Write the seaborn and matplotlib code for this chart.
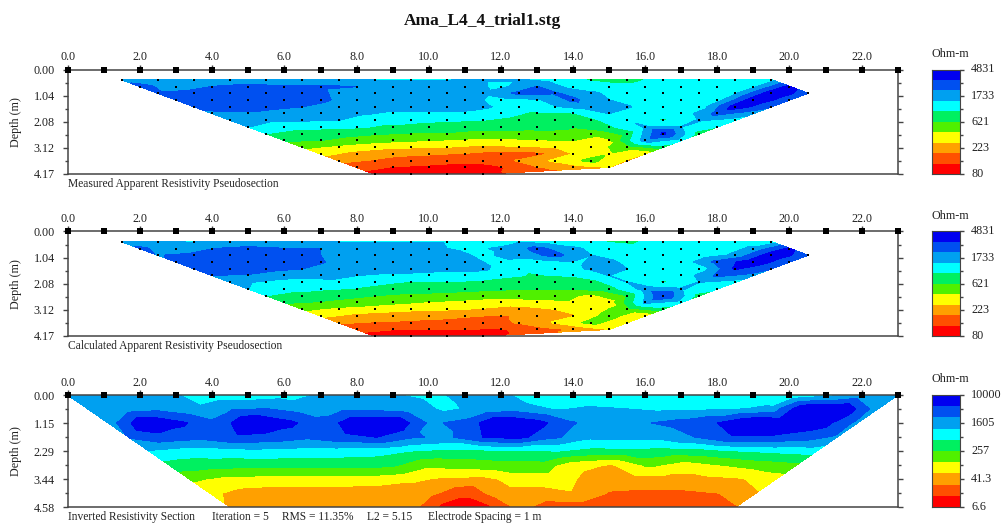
import numpy as np
import seaborn as sns
import matplotlib
matplotlib.use("Agg")
import matplotlib.pyplot as plt
from matplotlib.colors import ListedColormap
from matplotlib.ticker import FixedLocator
from matplotlib.tri import Triangulation

TITLE = "Ama_L4_4_trial1.stg"
COLORS = ["#ff0000", "#ff5000", "#ffa000", "#ffff00", "#50f000",
          "#00f060", "#00ffff", "#00a0f0", "#0050f0", "#0000f0"]

pseudo_depth_labels = ["0.00", "1.04", "2.08", "3.12", "4.17"]
pseudo_bar_labels = ["4831", "1733", "621", "223", "80"]
section_depth_labels = ["0.00", "1.15", "2.29", "3.44", "4.58"]
section_bar_labels = ["10000", "1605", "257", "41.3", "6.6"]

# values are read as a position on the colour bar, 0 = bottom, 10 = top
measured = [
    [7.7, 7.2, 6.95, 7.0, 6.95, 6.95, 6.95, 6.95, 6.95, 6.95, 7.1, 7.1, 6.5, 5.9, 5.7, 6.3, 6.4, 6.4, 6.5],
    [8.3, 7.5, 8.0, 8.4, 8.1, 8.1, 8.0, 7.5, 7.5, 7.5, 6.7, 8.0, 6.5, 6.2, 6.3, 6.3, 6.3, 6.7, 9.3],
    [8.1, 8.3, 8.5, 8.5, 8.5, 7.8, 7.5, 7.5, 7.5, 7.2, 8.2, 8.1, 7.2, 6.4, 6.3, 6.3, 6.8, 9.6, 8.6],
    [8.2, 8.5, 8.6, 8.5, 8.2, 7.5, 7.5, 7.5, 7.5, 6.5, 6.8, 8.2, 7.0, 6.3, 6.3, 6.5, 9.6, 8.5],
    [8.1, 8.2, 8.3, 8.0, 7.5, 7.5, 7.5, 7.5, 7.2, 6.4, 6.9, 7.5, 7.1, 6.3, 6.3, 9.5, 8.2],
    [7.9, 7.9, 7.5, 7.4, 7.2, 6.8, 6.8, 6.8, 6.3, 5.8, 5.9, 7.0, 6.3, 6.3, 8.3, 7.3],
    [7.3, 7.2, 7.1, 7.0, 6.3, 6.3, 6.1, 6.0, 5.7, 5.6, 5.7, 6.9, 5.9, 7.1, 6.5],
    [7.0, 6.3, 6.2, 6.1, 5.8, 5.5, 5.4, 5.3, 5.2, 5.1, 5.8, 7.1, 7.0, 6.0],
    [6.0, 5.6, 5.4, 5.1, 4.9, 4.9, 4.6, 4.7, 4.8, 4.1, 5.3, 9.2, 5.5],
    [5.1, 5.0, 4.5, 4.2, 4.0, 3.8, 3.7, 3.9, 4.0, 3.8, 7.5, 6.5],
    [4.2, 3.7, 3.3, 3.1, 3.0, 2.7, 2.9, 3.0, 3.6, 4.4, 5.5],
    [3.3, 2.6, 2.2, 2.1, 1.9, 1.5, 1.6, 3.0, 3.9, 3.0],
    [2.2, 1.9, 1.6, 1.3, 1.2, 2.1, 3.2, 4.3, 2.9],
    [1.5, 0.9, 0.75, 0.6, 0.9, 1.9, 2.5, 3.0],
    [0.5, 0.3, 0.3, 0.5],
]

calculated = [
    [7.5, 7.05, 6.95, 6.95, 6.95, 6.95, 6.95, 6.95, 6.95, 6.95, 6.5, 6.9, 6.3, 6.1, 5.8, 6.4, 6.4, 6.4, 6.4],
    [8.2, 7.4, 7.95, 8.3, 8.0, 8.0, 7.3, 7.3, 7.2, 6.8, 7.1, 8.3, 7.2, 6.4, 6.3, 6.3, 6.4, 7.2, 9.2],
    [7.95, 8.2, 8.5, 8.5, 8.4, 7.6, 7.4, 7.4, 7.4, 6.8, 7.4, 8.3, 7.0, 6.4, 6.3, 6.3, 7.2, 9.6, 8.5],
    [8.1, 8.4, 8.6, 8.5, 8.1, 7.4, 7.4, 7.4, 7.3, 6.7, 6.4, 6.9, 7.2, 6.3, 6.3, 8.3, 9.6, 8.3],
    [8.1, 8.4, 8.3, 8.0, 7.4, 7.4, 7.4, 7.2, 7.2, 6.1, 6.6, 7.1, 7.0, 6.3, 6.3, 9.1, 8.1],
    [8.0, 7.9, 7.4, 7.3, 7.0, 6.8, 6.7, 6.6, 6.2, 5.9, 6.1, 7.0, 6.4, 6.3, 8.2, 7.6],
    [7.3, 6.8, 6.5, 6.8, 6.2, 5.9, 5.9, 5.8, 5.5, 5.2, 5.5, 7.0, 5.9, 7.0, 6.5],
    [7.0, 6.2, 6.1, 5.9, 5.6, 5.5, 5.3, 5.1, 5.0, 5.0, 5.5, 7.4, 7.1, 6.2],
    [6.0, 5.7, 5.3, 5.0, 4.7, 4.6, 4.4, 4.4, 4.5, 3.7, 5.0, 9.0, 5.5],
    [5.1, 4.9, 4.6, 4.2, 3.9, 3.7, 3.4, 3.6, 3.8, 3.4, 7.2, 6.5],
    [4.2, 3.7, 3.4, 3.2, 3.1, 2.9, 2.6, 3.0, 3.4, 4.6, 5.5],
    [3.2, 2.7, 2.5, 2.3, 2.1, 1.9, 2.3, 2.9, 4.4, 3.0],
    [2.1, 1.9, 1.8, 1.7, 1.5, 2.1, 3.1, 4.3, 3.2],
    [1.5, 1.05, 1.0, 1.0, 0.9, 1.5, 2.1, 3.0],
    [0.3, 0.2, 0.3, 0.5],
]

inverted = [
    [7.4, 7.4, 7.3, 7.05, 6.4, 6.4, 6.6, 7.1, 7.1, 7.05, 6.8, 7.2, 7.3, 6.2, 6.5, 6.4, 6.3, 6.2, 6.0, 6.3, 6.0, 6.6, 7.3, 7.4],
    [7.4, 7.4, 7.7, 7.2, 7.9, 8.0, 7.5, 7.7, 7.7, 7.4, 6.8, 7.3, 7.5, 6.9, 7.1, 7.0, 6.8, 6.8, 6.9, 7.2, 10.0, 10.0, 7.4],
    [7.4, 9.9, 9.2, 8.2, 10.0, 9.3, 8.3, 9.8, 9.9, 7.8, 8.3, 10.0, 9.4, 8.1, 7.3, 7.9, 8.3, 8.9, 10.0, 9.9, 9.5, 7.7],
    [8.1, 8.6, 8.3, 8.8, 8.6, 8.2, 8.7, 9.0, 8.1, 7.8, 9.0, 9.3, 8.2, 7.2, 7.3, 7.3, 8.0, 8.9, 8.9, 8.5, 7.8],
    [6.9, 6.5, 6.6, 6.7, 6.6, 6.5, 6.4, 6.0, 5.7, 5.7, 5.8, 6.0, 5.6, 5.7, 5.5, 5.6, 6.0, 6.2, 6.4],
    [5.6, 5.4, 5.3, 5.3, 5.3, 5.3, 5.2, 4.2, 4.4, 4.6, 4.6, 3.3, 2.9, 4.2, 3.5, 4.0, 4.4, 4.7],
    [4.2, 3.7, 3.6, 3.6, 3.6, 3.5, 3.2, 2.8, 2.7, 3.4, 3.5, 2.6, 2.5, 2.6, 2.7, 2.9, 3.5],
    [3.2, 2.6, 2.4, 2.4, 2.4, 2.3, 2.3, 1.2, 2.6, 2.6, 2.9, 1.9, 1.8, 1.8, 2.0, 2.9],
    [2.9, 2.5, 2.5, 2.5, 2.5, 2.4, 0.5, 0.5, 2.3, 1.4, 1.3, 1.3, 1.3, 1.3, 1.9],
]

sns.set_theme(style="white")
plt.rcParams["font.family"] = ["Liberation Serif", "DejaVu Serif"]
INK = "#222222"
LINE = "#444444"
W, H = 1001, 527


def add_px_axes(fig, left, top, right, bottom):
    return fig.add_axes([left / W, 1 - bottom / H, (right - left) / W, (bottom - top) / H])


def pseudo_points(rows):
    xs, zs, vs = [], [], []
    for k, row in enumerate(rows):
        for i, v in enumerate(row):
            xs.append(1.5 + 0.5 * k + i)
            zs.append(0.41 + 0.2686 * k)
            vs.append(v)
    return np.array(xs), np.array(zs), np.array(vs)


def section_points(rows, max_depth):
    xs, zs, vs = [], [], []
    for k, row in enumerate(rows):
        left = 0.5625 * k
        xs.extend(np.linspace(left, 23 - left, len(row)))
        zs.extend([max_depth * k / (len(rows) - 1)] * len(row))
        vs.extend(row)
    return np.array(xs), np.array(zs), np.array(vs)


def draw_panel(fig, box, xs, zs, vs, depth_labels, max_depth, z_scale, show_dots):
    ax = add_px_axes(fig, *box)
    triangles = Triangulation(xs, zs * z_scale).triangles
    tri = Triangulation(xs, zs, triangles)
    levels = [-1, 1, 2, 3, 4, 5, 6, 7, 8, 9, 11]
    cs = ax.tricontourf(tri, vs, levels=levels, colors=COLORS)
    cs.set_edgecolor("face")
    cs.set_linewidth(0.3)
    if show_dots:
        sns.scatterplot(x=xs, y=zs, ax=ax, color="black", marker="s", s=1.6, linewidth=0,
                        legend=False, zorder=3, clip_on=False)
    # electrodes on the surface line
    electrodes = np.arange(0, 24)
    sns.scatterplot(x=electrodes, y=np.zeros(24), ax=ax, color="black", marker="s", s=16,
                    linewidth=0, legend=False, zorder=5, clip_on=False)
    ax.set_xlim(0, 23)
    ax.set_ylim(max_depth, 0)

    ax.xaxis.tick_top()
    ax.set_xticks(np.arange(0, 23, 2))
    ax.set_xticklabels([f"{v:.1f}" for v in np.arange(0, 23, 2)], fontsize=8.7, color=INK)
    ax.tick_params(axis="x", length=3.6, width=1, color=LINE, pad=1, bottom=False, top=True)

    major = np.linspace(0, max_depth, 5)
    ax.set_yticks(major)
    ax.set_yticklabels(depth_labels, fontsize=8.7, color=INK)
    ax.yaxis.set_minor_locator(FixedLocator((major[:-1] + major[1:]) / 2))
    ax.tick_params(axis="y", which="major", length=3.6, width=1, color=LINE, pad=6,
                   left=True, right=True)
    ax.tick_params(axis="y", which="minor", length=2, width=1, color=LINE,
                   left=True, right=True)
    ax.set_ylabel("Depth (m)", fontsize=8.7, color=INK)
    ax.yaxis.set_label_coords(-46 / (box[2] - box[0]), 0.5)
    ax.set_xlabel("")
    for side in ax.spines.values():
        side.set_color(LINE)
        side.set_linewidth(1.1)
    return ax


def draw_bar(fig, top, bottom, labels):
    cax = add_px_axes(fig, 932, top, 960, bottom)
    cells = np.arange(9, -1, -1).reshape(-1, 1)
    sns.heatmap(cells, cmap=ListedColormap(COLORS), vmin=-0.5, vmax=9.5, cbar=False,
                xticklabels=False, yticklabels=False, ax=cax)
    cax.yaxis.tick_right()
    major = np.linspace(0, 10, 5)
    cax.set_yticks(major)
    cax.set_yticklabels(labels, fontsize=8.7, color=INK, rotation=0, va="center")
    cax.yaxis.set_minor_locator(FixedLocator((major[:-1] + major[1:]) / 2))
    cax.tick_params(axis="y", which="major", length=3, width=1, color=LINE, pad=5, right=True, left=False)
    cax.tick_params(axis="y", which="minor", length=2, width=1, color=LINE, right=True, left=False)
    for side in cax.spines.values():
        side.set_visible(True)
        side.set_color(LINE)
        side.set_linewidth(0.8)
    fig.text(950 / W, 1 - (top - 15.5) / H, "Ohm-m", fontsize=8.7, color=INK, ha="center", va="center")


fig = plt.figure(figsize=(W / 100, H / 100), dpi=100, facecolor="white")
fig.text(482 / W, 1 - 21 / H, TITLE, fontsize=12.5, fontweight="bold", color="#111111",
         ha="center", va="center")

panels = [(69.5, 174, measured), (231.5, 336, calculated)]
captions = ["Measured Apparent Resistivity Pseudosection", "Calculated Apparent Resistivity Pseudosection"]
for (top, bottom, rows), caption in zip(panels, captions):
    xs, zs, vs = pseudo_points(rows)
    draw_panel(fig, (68, top, 897.7, bottom), xs, zs, vs, pseudo_depth_labels, 4.17, 2.2, True)
    draw_bar(fig, top, bottom, pseudo_bar_labels)
    fig.text(68 / W, 1 - (bottom + 12.5) / H, caption, fontsize=8.3, color=INK, va="baseline")

xs, zs, vs = section_points(inverted, 4.58)
draw_panel(fig, (68, 395, 897.7, 507), xs, zs, vs, section_depth_labels, 4.58, 1.7, False)
draw_bar(fig, 395, 507, section_bar_labels)
for px, piece in [(68, "Inverted Resistivity Section"), (212, "Iteration = 5"), (282, "RMS = 11.35%"),
                  (367, "L2 = 5.15"), (428, "Electrode Spacing = 1 m")]:
    fig.text(px / W, 1 - 520 / H, piece, fontsize=8.3, color=INK, va="baseline")

fig.savefig("out.png", dpi=100)
